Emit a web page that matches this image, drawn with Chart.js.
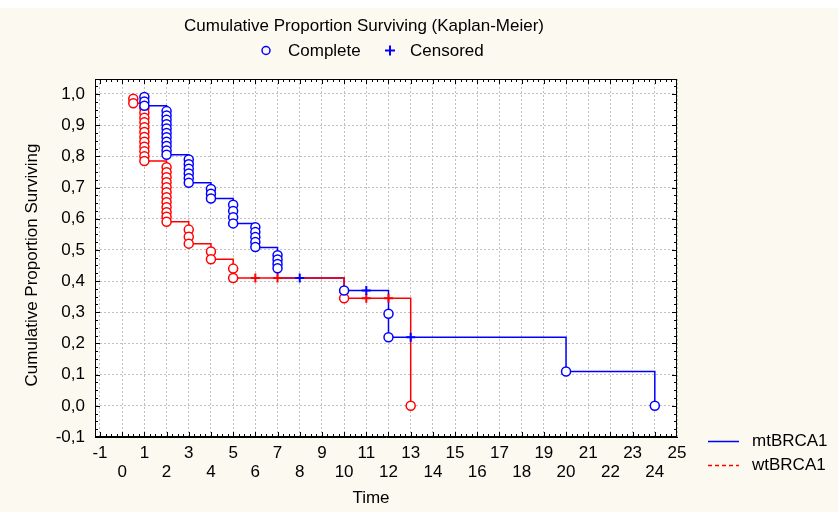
<!DOCTYPE html>
<html>
<head>
<meta charset="utf-8">
<script src="https://cdn.jsdelivr.net/npm/chart.js@4.4.1/dist/chart.umd.min.js"></script>
<style>
  html, body { margin: 0; padding: 0; background: #fcf9f0; }
  #wrap { width: 838px; height: 512px; }
</style>
</head>
<body>
<div id="wrap"><canvas id="km" width="838" height="512"></canvas></div>
<script>
"use strict";

/* Kaplan-Meier survival plot, mtBRCA1 vs wtBRCA1 (Statistica look). */

const FONT = '"Liberation Sans", Arial, sans-serif';
const BLUE = "#0000ff";
const RED = "#ff0000";

// axis ticks
const xTicks = [-1, 0, 1, 2, 3, 4, 5, 6, 7, 8, 9, 10, 11, 12, 13, 14, 15, 16, 17, 18, 19, 20, 21, 22, 23, 24, 25];
const yTicks = [-0.1, 0, 0.1, 0.2, 0.3, 0.4, 0.5, 0.6, 0.7, 0.8, 0.9, 1.0];

// mtBRCA1 step curve (time, survival after event)
const mtStepT = [1, 1, 2, 3, 4, 5, 6, 7, 10, 12, 20, 24];
const mtStepS = [0.99, 0.962, 0.805, 0.715, 0.665, 0.585, 0.508, 0.41, 0.37, 0.22, 0.11, 0.0];

// mtBRCA1 complete (death) markers
const mtDeathT = [1, 1, 1,
  2, 2, 2, 2, 2, 2, 2, 2, 2, 2, 2,
  3, 3, 3, 3, 3, 3,
  4, 4, 4,
  5, 5, 5, 5,
  6, 6, 6, 6, 6,
  7, 7, 7, 7,
  10, 12, 12, 20, 24];
const mtDeathS = [0.99, 0.976, 0.962,
  0.945, 0.931, 0.917, 0.903, 0.889, 0.875, 0.861, 0.847, 0.833, 0.819, 0.805,
  0.79, 0.775, 0.76, 0.745, 0.73, 0.715,
  0.695, 0.68, 0.665,
  0.645, 0.625, 0.605, 0.585,
  0.573, 0.557, 0.541, 0.525, 0.509,
  0.483, 0.469, 0.455, 0.441,
  0.37, 0.295, 0.22, 0.11, 0.0];

// mtBRCA1 censored markers
const mtCensT = [8, 11, 13];
const mtCensS = [0.41, 0.37, 0.22];

// wtBRCA1 step curve
const wtStepT = [0.5, 0.5, 1, 2, 3, 4, 5, 10, 13];
const wtStepS = [0.985, 0.97, 0.785, 0.59, 0.52, 0.47, 0.41, 0.345, 0.0];

// wtBRCA1 complete markers
const wtDeathT = [0.5, 0.5,
  1, 1, 1, 1, 1, 1, 1, 1, 1, 1, 1, 1,
  2, 2, 2, 2, 2, 2, 2, 2, 2, 2, 2, 2,
  3, 3, 3,
  4, 4,
  5, 5,
  10, 13];
const wtDeathS = [0.985, 0.97,
  0.955, 0.94, 0.924, 0.909, 0.893, 0.878, 0.862, 0.847, 0.831, 0.816, 0.8, 0.785,
  0.765, 0.749, 0.733, 0.717, 0.701, 0.685, 0.669, 0.653, 0.637, 0.621, 0.606, 0.59,
  0.565, 0.542, 0.52,
  0.495, 0.47,
  0.44, 0.41,
  0.345, 0.0];

// wtBRCA1 censored markers
const wtCensT = [6, 7, 11, 12];
const wtCensS = [0.41, 0.41, 0.345, 0.345];

const pts = (t, s) => t.map((v, i) => ({ x: v, y: s[i] }));

function rings(t, s, color) {
  return {
    data: pts(t, s),
    showLine: false,
    pointStyle: "circle",
    pointRadius: 4.5,
    pointBorderWidth: 1.5,
    pointBorderColor: color,
    pointBackgroundColor: "#ffffff",
  };
}

function crosses(t, s, color) {
  return {
    data: pts(t, s),
    showLine: false,
    pointStyle: "cross",
    pointRadius: 4.5,
    pointBorderWidth: 2,
    pointBorderColor: color,
  };
}

function stepLine(t, s, color) {
  return {
    data: pts(t, s),
    stepped: "before",
    borderColor: color,
    borderWidth: 1.5,
    pointRadius: 0,
    fill: false,
  };
}

const frame = {
  id: "frame",
  beforeDraw(chart) {
    const { ctx, chartArea: a } = chart;
    ctx.save();
    ctx.fillStyle = "#fcf9f0";
    ctx.fillRect(0, 0, chart.width, chart.height);
    ctx.fillStyle = "#ffffff";
    ctx.fillRect(0, 0, chart.width, 8);
    ctx.fillRect(a.left, a.top, a.right - a.left, a.bottom - a.top);
    ctx.restore();
  },
  afterDraw(chart) {
    const { ctx, chartArea: a, scales } = chart;
    const xs = scales.x, ys = scales.y;
    ctx.save();

    // box and inward ticks
    ctx.strokeStyle = "#000";
    ctx.lineWidth = 1;
    ctx.strokeRect(Math.round(a.left) + 0.5, Math.round(a.top) + 0.5,
      Math.round(a.right - a.left) - 1, Math.round(a.bottom - a.top) - 1);
    ctx.beginPath();
    for (let k = -4; k <= 42; k++) {
      const y = Math.round(ys.getPixelForValue(k * 0.025)) + 0.5;
      if (y < a.top || y > a.bottom) continue;
      const len = k % 4 === 0 ? 5 : 3;
      ctx.moveTo(a.left, y); ctx.lineTo(a.left + len, y);
      ctx.moveTo(a.right, y); ctx.lineTo(a.right - len, y);
    }
    for (let k = -4; k <= 100; k++) {
      const x = Math.round(xs.getPixelForValue(k * 0.25)) + 0.5;
      if (x < a.left || x > a.right) continue;
      const len = k % 4 === 0 ? 5 : 3;
      ctx.moveTo(x, a.bottom); ctx.lineTo(x, a.bottom - len);
      ctx.moveTo(x, a.top); ctx.lineTo(x, a.top + len);
    }
    ctx.stroke();

    // titles
    ctx.fillStyle = "#000";
    ctx.font = `17px ${FONT}`;
    ctx.textBaseline = "middle";
    ctx.textAlign = "center";
    ctx.fillText("Cumulative Proportion Surviving (Kaplan-Meier)", 364, 26);
    ctx.fillText("Time", 371, 498);

    ctx.save();
    ctx.translate(32, 265);
    ctx.rotate(-Math.PI / 2);
    ctx.fillText("Cumulative Proportion Surviving", 0, 0);
    ctx.restore();

    // marker legend
    ctx.textAlign = "left";
    ctx.strokeStyle = BLUE;
    ctx.lineWidth = 1.5;
    ctx.beginPath();
    ctx.arc(266, 50.5, 4, 0, Math.PI * 2);
    ctx.stroke();
    ctx.fillText("Complete", 288, 51);
    ctx.lineWidth = 2;
    ctx.beginPath();
    ctx.moveTo(385, 50.5); ctx.lineTo(395, 50.5);
    ctx.moveTo(390, 45.5); ctx.lineTo(390, 55.5);
    ctx.stroke();
    ctx.fillText("Censored", 410, 51);

    // series legend
    ctx.lineWidth = 1.5;
    ctx.strokeStyle = BLUE;
    ctx.beginPath();
    ctx.moveTo(708, 441.5); ctx.lineTo(739, 441.5);
    ctx.stroke();
    ctx.fillText("mtBRCA1", 752, 441);
    ctx.strokeStyle = RED;
    ctx.setLineDash([4, 3]);
    ctx.beginPath();
    ctx.moveTo(708, 465.5); ctx.lineTo(739, 465.5);
    ctx.stroke();
    ctx.setLineDash([]);
    ctx.fillText("wtBRCA1", 752, 465);

    ctx.restore();
  },
};

new Chart(document.getElementById("km"), {
  type: "line",
  data: {
    datasets: [
      crosses(mtCensT, mtCensS, BLUE),
      crosses(wtCensT, wtCensS, RED),
      rings(mtDeathT, mtDeathS, BLUE),
      rings(wtDeathT, wtDeathS, RED),
      stepLine(wtStepT, wtStepS, RED),
      stepLine(mtStepT, mtStepS, BLUE),
    ],
  },
  options: {
    responsive: false,
    animation: false,
    layout: { padding: { top: 79, right: 161, left: 0, bottom: 0 } },
    plugins: { legend: { display: false }, tooltip: { enabled: false } },
    scales: {
      x: {
        type: "linear",
        min: -1.225,
        max: 25,
        afterFit: (s) => { s.height = 75; },
        afterBuildTicks: (s) => { s.ticks = xTicks.map((v) => ({ value: v })); },
        grid: { color: "#c0c0c0", drawTicks: false },
        border: { color: "#000", width: 1, dash: [2, 2] },
        ticks: {
          autoSkip: false,
          maxRotation: 0,
          padding: 7,
          color: "#000",
          font: { family: FONT, size: 17, lineHeight: 1.1 },
          callback: (v) => (Math.abs(v) % 2 === 1 ? String(v) : ["", String(v)]),
        },
      },
      y: {
        min: -0.1,
        max: 1.048,
        afterFit: (s) => { s.width = 95; },
        afterBuildTicks: (s) => { s.ticks = yTicks.map((v) => ({ value: v })); },
        grid: { color: "#c0c0c0", drawTicks: false },
        border: { color: "#000", width: 1, dash: [2, 2] },
        ticks: {
          padding: 10,
          color: "#000",
          font: { family: FONT, size: 17 },
          callback: (v) => v.toFixed(1).replace(".", ","),
        },
      },
    },
  },
  plugins: [frame],
});
</script>
</body>
</html>
